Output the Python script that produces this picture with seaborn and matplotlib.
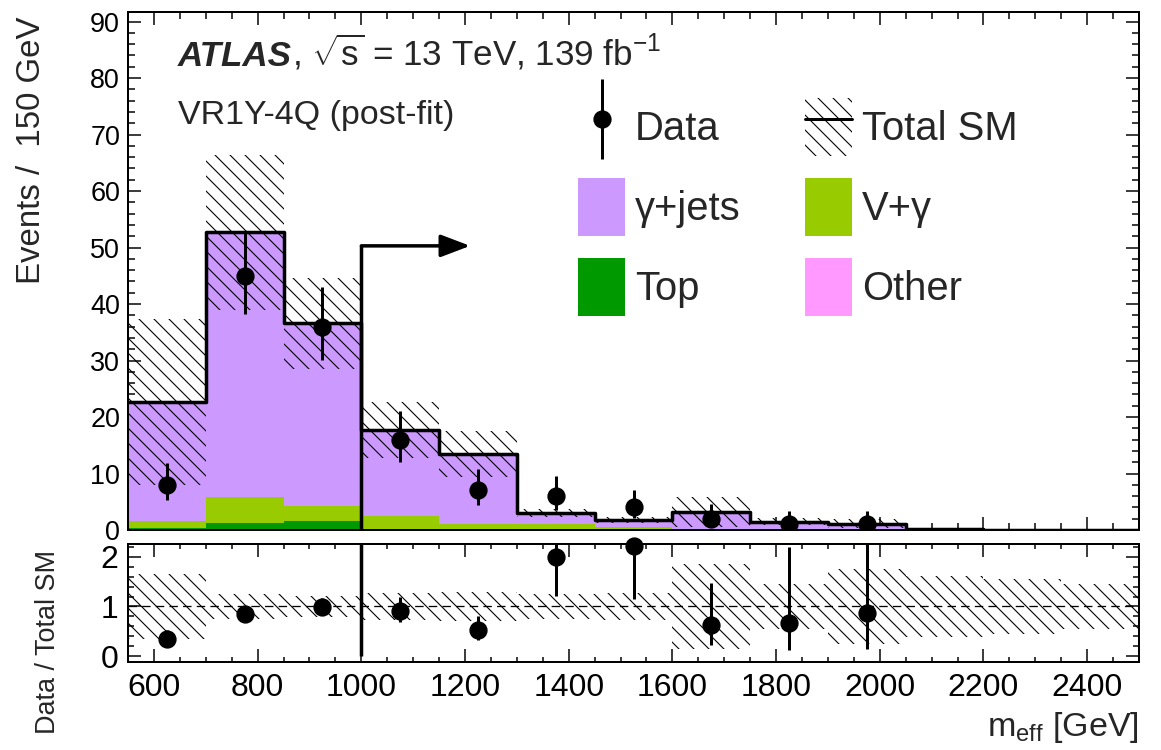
import numpy as np
import pandas as pd
import matplotlib
matplotlib.use("Agg")
import matplotlib.pyplot as plt
from matplotlib.patches import Patch
from matplotlib.lines import Line2D
from matplotlib.container import ErrorbarContainer
from matplotlib.legend_handler import HandlerErrorbar, HandlerTuple
from matplotlib.ticker import MultipleLocator
import seaborn as sns

# ---------------- data ----------------
bin_edges = [550, 700, 850, 1000, 1150, 1300, 1450, 1600, 1750, 1900, 2050, 2200, 2350, 2500]
gjets = [20.95, 46.9, 32.35, 15.15, 12.37, 1.98, 1.28, 2.93, 1.34, 1.04, 0.08, 0.05, 0.03]
vgamma = [1.3, 4.6, 2.7, 2.35, 1.0, 0.95, 0.45, 0.17, 0.13, 0.08, 0.02, 0.01, 0.01]
top = [0.3, 1.1, 1.5, 0.15, 0.1, 0.05, 0.05, 0.03, 0.02, 0.02, 0.01, 0.01, 0.01]
other = [0.05, 0.1, 0.05, 0.05, 0.03, 0.02, 0.02, 0.02, 0.01, 0.01, 0.01, 0.01, 0.01]
sm_rel_unc = [0.65, 0.26, 0.22, 0.28, 0.30, 0.25, 0.27, 0.85, 0.45, 0.76, 0.62, 0.55, 0.45]
data = [8, 45, 36, 16, 7, 6, 4, 2, 1, 1, 0, 0, 0]
data_err_lo = [2.768, 6.683, 5.971, 3.957, 2.581, 2.379, 1.914, 1.292, 0.827, 0.827, 0, 0, 0]
data_err_hi = [3.945, 7.758, 7.055, 5.083, 3.770, 3.583, 3.162, 2.638, 2.300, 2.300, 0, 0, 0]
process_names = ["γ+jets", "V+γ", "Top", "Other"]
process_colors = ["#cc99ff", "#99cc00", "#009900", "#ff99ff"]
cut_value = 1000
arrow_level = 50.3
arrow_end = 1210

# ---------------- style ----------------
sns.set_style("ticks")
W, H, DPI = 1161, 750, 90
def pt(px):
    return px * 72.0 / DPI
def fx(px):
    return px / W
def fy(py):
    return 1 - py / H

plt.rcParams["font.family"] = ["Liberation Sans", "DejaVu Sans"]
plt.rcParams["mathtext.fontset"] = "custom"
plt.rcParams["mathtext.rm"] = "Liberation Sans"
plt.rcParams["mathtext.it"] = "Liberation Sans:italic"
plt.rcParams["mathtext.bf"] = "Liberation Sans:bold"
plt.rcParams["hatch.linewidth"] = pt(1.1)
plt.rcParams["hatch.color"] = "black"
HATCH = "\\\\"

fig = plt.figure(figsize=(W / DPI, H / DPI), dpi=DPI)
ax = fig.add_axes([fx(128), fy(530), fx(1139) - fx(128), fy(12) - fy(530)])
axr = fig.add_axes([fx(128), fy(662), fx(1139) - fx(128), fy(544) - fy(662)])

edges = np.array(bin_edges, dtype=float)
widths = np.diff(edges)
centers = 0.5 * (edges[:-1] + edges[1:])
vals = {"γ+jets": gjets, "V+γ": vgamma, "Top": top, "Other": other}
df = pd.DataFrame([{"meff": c, "events": v, "process": p}
                   for p in process_names for c, v in zip(centers, vals[p])])
palette = dict(zip(process_names, process_colors))

# stacked backgrounds
sns.histplot(data=df, x="meff", weights="events", hue="process", hue_order=process_names,
             multiple="stack", bins=list(bin_edges), element="bars", palette=palette, alpha=1,
             linewidth=0, legend=False, ax=ax)

total = np.sum([gjets, vgamma, top, other], axis=0)
rel = np.array(sm_rel_unc)
unc = total * rel

# uncertainty band
ax.bar(edges[:-1], 2 * unc, bottom=total - unc, width=widths, align="edge",
       fill=False, hatch=HATCH, linewidth=0, edgecolor="black", zorder=3)
# total SM line
sns.histplot(x=list(centers), weights=list(total), bins=list(bin_edges), element="step", fill=False,
             color="black", linewidth=pt(3.5), ax=ax, zorder=4)

d = np.array(data, dtype=float)
lo = np.array(data_err_lo)
hi = np.array(data_err_hi)
m = d > 0
eb = ax.errorbar(centers[m], d[m], yerr=[lo[m], hi[m]], fmt="o", color="black",
                 ms=pt(17), elinewidth=pt(3), capsize=0, zorder=6)

# cut arrow
ax.plot([cut_value, cut_value], [0, arrow_level], color="black", lw=pt(3.5), zorder=7,
        solid_capstyle="butt")
ax.annotate("", xy=(arrow_end, arrow_level), xytext=(cut_value, arrow_level),
            arrowprops=dict(arrowstyle="-|>,head_length=1.0,head_width=0.38",
                            lw=pt(3.5), color="black", shrinkA=0, shrinkB=0,
                            mutation_scale=pt(25)), zorder=7)

ax.set_xlabel("")
ax.set_ylabel("")
ax.set_xlim(550, 2500)
ax.set_ylim(0, 91.7)

# ratio panel
axr.bar(edges[:-1], 2 * rel, bottom=1 - rel, width=widths, align="edge",
        fill=False, hatch=HATCH, linewidth=0, edgecolor="black", zorder=2)
axr.axhline(1, color="black", lw=pt(1.3), ls=(0, (6.5, 4)), zorder=3)
ratio = d[m] / total[m]
axr.errorbar(centers[m], ratio, yerr=[lo[m] / total[m], hi[m] / total[m]], fmt="none",
             ecolor="black", elinewidth=pt(3), capsize=0, zorder=5)
axr.plot(centers[m], ratio, "o", color="black", ms=pt(17), clip_on=False, zorder=6)
axr.plot([cut_value, cut_value], [0, 2.26], color="black", lw=pt(3.5), zorder=7,
         solid_capstyle="butt")
axr.set_xlim(550, 2500)
axr.set_ylim(-0.12, 2.26)

for a in (ax, axr):
    a.xaxis.set_major_locator(MultipleLocator(200))
    a.xaxis.set_minor_locator(MultipleLocator(50))
    a.tick_params(which="both", direction="in", top=True, right=True, width=pt(1.5),
                  colors="black")
    a.tick_params(which="major", length=pt(13))
    a.tick_params(which="minor", length=pt(7))
    for s in a.spines.values():
        s.set_linewidth(pt(2))
        s.set_color("black")
        s.set_zorder(10)

ax.yaxis.set_major_locator(MultipleLocator(10))
ax.yaxis.set_minor_locator(MultipleLocator(2))
ax.tick_params(labelbottom=False)
ax.tick_params(axis="y", labelsize=pt(27), pad=pt(8))

axr.yaxis.set_major_locator(MultipleLocator(1))
axr.yaxis.set_minor_locator(MultipleLocator(0.2))
axr.tick_params(axis="x", labelsize=pt(32), pad=pt(11))
axr.tick_params(axis="y", labelsize=pt(32), pad=pt(10))
axr.tick_params(axis="y", which="minor", length=pt(6))
axr.tick_params(axis="x", which="minor", length=pt(5))

# axis titles
fig.text(fx(32), fy(16), "Events /  150 GeV", rotation=90, ha="center", va="top",
         fontsize=pt(33))
fig.text(fx(48), fy(550), "Data / Total SM", rotation=90, ha="center", va="top",
         fontsize=pt(27))
fig.text(fx(1139), fy(736), r"m$_{\mathrm{eff}}$ [GeV]", ha="right", va="baseline",
         fontsize=pt(34))

# ATLAS label
t1 = fig.text(fx(178), fy(65.5), "ATLAS", fontsize=pt(35), fontweight="bold",
              fontstyle="italic", va="baseline", ha="left")
renderer = fig.canvas.get_renderer()
bb = t1.get_window_extent(renderer)
fig.text(bb.x1 / W, fy(65.5), r", $\sqrt{\mathrm{s}}$ = 13 TeV, 139 fb$^{\mathrm{-1}}$",
         fontsize=pt(35), va="baseline", ha="left")
fig.text(fx(178), fy(124), "VR1Y-4Q (post-fit)", fontsize=pt(34), va="baseline", ha="left")

# legend
fs_px = 40.0
box_h = 58.0
hh = (box_h / fs_px - 0.245) / 0.65
h_total = (Patch(facecolor="none", edgecolor="black", hatch=HATCH, linewidth=0),
           Line2D([], [], color="black", lw=pt(3)))
h_patches = [Patch(facecolor=c, edgecolor="none", linewidth=0) for c in process_colors]
common = dict(loc="upper left", bbox_transform=fig.transFigure, frameon=False,
              fontsize=pt(fs_px), handlelength=47 / fs_px, handleheight=hh,
              labelspacing=22 / fs_px, handletextpad=10 / fs_px, borderpad=0,
              borderaxespad=0)
leg1 = ax.legend([eb, h_patches[0], h_patches[2]], ["Data", process_names[0], process_names[2]],
                 bbox_to_anchor=(fx(578), fy(98)),
                 handler_map={ErrorbarContainer: HandlerErrorbar(xerr_size=1.0)}, **common)
ax.add_artist(leg1)
leg2 = ax.legend([h_total, h_patches[1], h_patches[3]], ["Total SM", process_names[1], process_names[3]],
                 bbox_to_anchor=(fx(805), fy(98)),
                 handler_map={tuple: HandlerTuple(ndivide=1, pad=0)}, **common)

fig.savefig("out.png", dpi=DPI)
